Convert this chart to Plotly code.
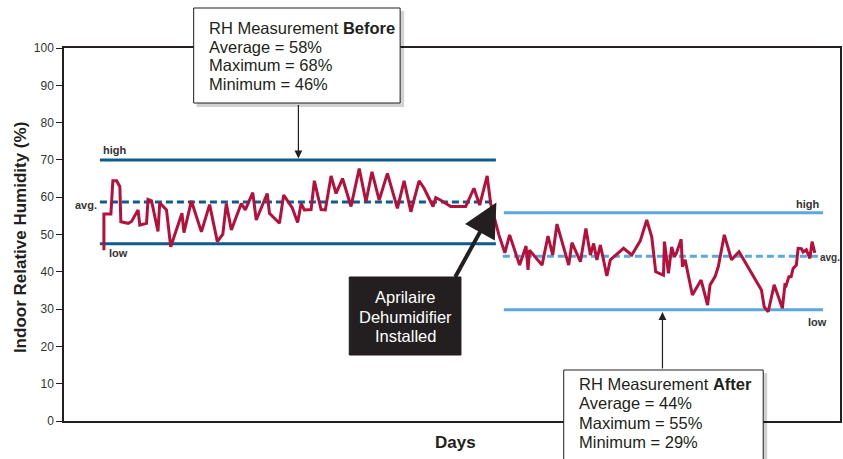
import plotly.graph_objects as go

# ---- data (day index, indoor RH %) ----
before_days = [16, 16, 18.8, 19.6, 21.1, 22.4, 22.8, 25.7, 27.1, 29.7, 30.4, 33.1, 33.7, 35.1, 37.7, 38.4,
               41.1, 42.8, 47.3, 48.1, 51.1, 55.1, 58.4, 61.5, 63.7, 65.1, 67.1, 71.1, 72.7, 75.7, 77.1,
               81.5, 82.4, 86.4, 88.1, 91.5, 93.7, 95.1, 96.4, 99.1, 100.4, 103.1, 104.8, 107.1, 109.1,
               111.7, 115.1, 118.4, 121.1, 123.5, 126.4, 129.7, 133.7, 136.4, 139.1, 142.4, 144.4, 148,
               149.1, 151.1, 155.1, 161.1, 164.4, 166.7, 169.7, 171.1, 174.4]
before_rh = [45.8, 55.5, 55.5, 64.4, 64.4, 62.8, 53.4, 53.0, 53.5, 56.6, 52.5, 53.0, 59.4, 59.0, 50.8, 58.5,
             56.6, 46.7, 55.7, 50.5, 59.0, 50.7, 58.0, 48.1, 50.1, 58.3, 51.2, 58.3, 56.6, 61.2, 53.9,
             61.0, 55.7, 53.0, 60.6, 57.2, 53.2, 58.3, 56.6, 56.7, 64.4, 56.7, 56.6, 65.7, 61.0,
             65.0, 57.5, 67.7, 58.8, 66.8, 59.2, 66.4, 57.0, 64.4, 56.1, 64.4, 62.4, 57.5,
             59.9, 59.2, 57.5, 57.5, 62.4, 57.9, 65.7, 58.3, 49.9]
after_days = [176.8, 178.7, 182.7, 185.3, 186.1, 186.7, 191.7, 194.1, 196, 197.7, 202.4, 203.7, 207.1,
              209.3, 211.1, 212.4, 213.7, 215.1, 217.7, 219.1, 224.4, 227.7, 231.1, 233.7, 235.7, 237.3,
              240.4, 240.8, 242.4, 243.7, 244.8, 245.6, 247.5, 248, 249.1, 252, 255.5, 258.1, 259.1,
              261.1, 262.4, 264.8, 267.7, 270.7, 279.7, 280.8, 282.4, 284.8, 288.1, 289.1, 289.6, 290.7,
              291.6, 292.4, 293.7, 294.4, 295.7, 296.4, 297.7, 299.1, 300, 301.1]
after_rh = [45.1, 49.9, 41.8, 46.9, 40.5, 45.8, 41.8, 49.6, 44.5, 52.8, 41.8, 47.8, 42.7,
            51.6, 44.5, 47.6, 43.2, 47.2, 38.9, 43.2, 46.3, 44.5, 48.3, 53.9, 49.4, 40.0,
            39.1, 48.1, 39.6, 46.7, 44.0, 45.0, 48.7, 41.4, 43.2, 33.8, 37.8, 31.1, 36.5,
            38.7, 41.4, 49.9, 43.2, 45.4, 35.1, 30.6, 29.3, 36.5, 30.2, 36.5, 36.3, 38.7,
            38.7, 40.9, 41.8, 46.3, 46.2, 45.3, 45.9, 43.6, 48.1, 45.1]

before_span = [14.4, 173.2]
after_span = [176.4, 304.4]
after_avg_span = [176.0, 302.4]
before_high, before_avg, before_low = 70, 58.7, 47.5
after_high, after_avg, after_low = 55.8, 44.2, 29.8

y_ticks = [0, 10, 20, 30, 40, 50, 60, 70, 80, 90, 100]

before_text = ["RH Measurement <b>Before</b>", "Average = 58%", "Maximum = 68%", "Minimum = 46%"]
after_text = ["RH Measurement <b>After</b>", "Average = 44%", "Maximum = 55%", "Minimum = 29%"]
install_text = ["Aprilaire", "Dehumidifier", "Installed"]

# ---- styles ----
DARK = "#0e5c8c"
LIGHT = "#5aa8dc"
RED = "#b5103c"
INK = "#231f20"
FONT = "Liberation Sans, Arial, sans-serif"

W, H = 843, 459
PL, PR, PT, PB = 64, 842, 48, 421


def fx(x):
    return (x - PL) / (PR - PL)


def fy(y):
    return (PB - y) / (PB - PT)


fig = go.Figure()


def hline(span, yv, color, dash="solid"):
    fig.add_trace(go.Scatter(x=span, y=[yv, yv], mode="lines", hoverinfo="skip",
                             line=dict(color=color, width=3, dash=dash), showlegend=False))


hline(before_span, before_high, DARK)
hline(before_span, before_low, DARK)
hline(before_span, before_avg, DARK, "7px,4px")
hline(after_span, after_high, LIGHT)
hline(after_span, after_low, LIGHT)
hline(after_avg_span, after_avg, LIGHT, "7px,4px")

fig.add_trace(go.Scatter(x=before_days + after_days, y=before_rh + after_rh, mode="lines",
                         line=dict(color=RED, width=3), showlegend=False))

shapes = []
annotations = []


def box(x0, y0, x1, y1, fill, shadow=True):
    if shadow:
        shapes.append(dict(type="rect", xref="paper", yref="paper", layer="above",
                           x0=fx(x0 + 3), x1=fx(x1 + 4), y0=fy(y1 + 4), y1=fy(y0 + 3),
                           fillcolor="rgba(0,0,0,0.18)", line=dict(width=0)))
    shapes.append(dict(type="rect", xref="paper", yref="paper", layer="above",
                       x0=fx(x0), x1=fx(x1), y0=fy(y1), y1=fy(y0),
                       fillcolor=fill, line=dict(color=INK, width=1)))


def text(x, y, s, size=16.5, color=INK, xanchor="left", **kw):
    annotations.append(dict(xref="paper", yref="paper", x=fx(x), y=fy(y), text=s, showarrow=False,
                            xanchor=xanchor, yanchor="middle",
                            font=dict(family=FONT, size=size, color=color), **kw))


# small labels
lab = dict(family=FONT, size=11, color="#333333")
annotations += [
    dict(x=before_span[0] + 0.5, y=before_high, text="<b>high</b>", showarrow=False, xanchor="left",
         yanchor="bottom", yshift=2, font=lab),
    dict(x=before_span[0] - 0.4, y=before_avg, text="<b>avg.</b>", showarrow=False, xanchor="right",
         yanchor="middle", yshift=-3, font=lab),
    dict(x=before_span[0] + 3, y=before_low, text="<b>low</b>", showarrow=False, xanchor="left",
         yanchor="top", yshift=-1, font=lab),
    dict(x=after_span[1] - 1, y=after_high, text="<b>high</b>", showarrow=False, xanchor="right",
         yanchor="bottom", yshift=1, font=lab),
    dict(x=after_avg_span[1] + 0.3, y=after_avg, text="<b>avg.</b>", showarrow=False, xanchor="left",
         yanchor="middle", yshift=-1, borderpad=0, font=dict(family=FONT, size=10, color="#333333")),
    dict(x=after_span[1] + 2.5, y=after_low, text="<b>low</b>", showarrow=False, xanchor="right",
         yanchor="top", yshift=-4, font=lab),
]

# arrows
annotations += [
    dict(x=94, y=before_high + 0.4, ax=0, ay=-55, text="", showarrow=True, arrowhead=2, arrowsize=1.3,
         arrowwidth=1.2, arrowcolor=INK, standoff=0),
    dict(x=240, y=after_low - 0.6, ax=0, ay=58, text="", showarrow=True, arrowhead=2, arrowsize=1.3,
         arrowwidth=1.2, arrowcolor=INK, standoff=0),
    dict(x=173.4, y=58.6, ax=-42, ay=76, text="", showarrow=True, arrowhead=2, arrowsize=1.7,
         arrowwidth=4, arrowcolor=INK, standoff=0),
]

box(194, 8, 401, 103, "white")
for i, s in enumerate(before_text):
    text(207, 28 + i * 18.7, s)
box(350, 277, 462, 355, INK, shadow=False)
for i, s in enumerate(install_text):
    text(406, 297 + i * 19.5, s, color="white", xanchor="center")
box(565, 370, 765, 470, "white")
for i, s in enumerate(after_text):
    text(578, 384 + i * 19.3, s)

text(20, 238, "<b>Indoor Relative Humidity (%)</b>", size=17, xanchor="center", textangle=-90)
text(457, 442, "<b>Days</b>", size=17, xanchor="center")

fig.update_layout(
    width=W, height=H, margin=dict(l=PL, r=W - PR, t=PT, b=H - PB),
    paper_bgcolor="white", plot_bgcolor="white", showlegend=False,
    shapes=shapes, annotations=annotations,
    xaxis=dict(range=[0, (PR - PL) / 2.5], showgrid=False, zeroline=False, showticklabels=False,
               ticks="", showline=True, linecolor=INK, linewidth=1.5, mirror=True),
    yaxis=dict(range=[0, 100], tickvals=y_ticks, showgrid=False, zeroline=False, ticks="outside",
               ticklen=6, tickcolor=INK, tickwidth=1, showline=True, linecolor=INK, linewidth=1.5,
               mirror=True, tickfont=dict(family=FONT, size=12, color="#333333")),
)

fig.write_html("out.html", config={"displayModeBar": False},
               post_script="document.body.style.margin='0';document.body.style.overflow='hidden';")
